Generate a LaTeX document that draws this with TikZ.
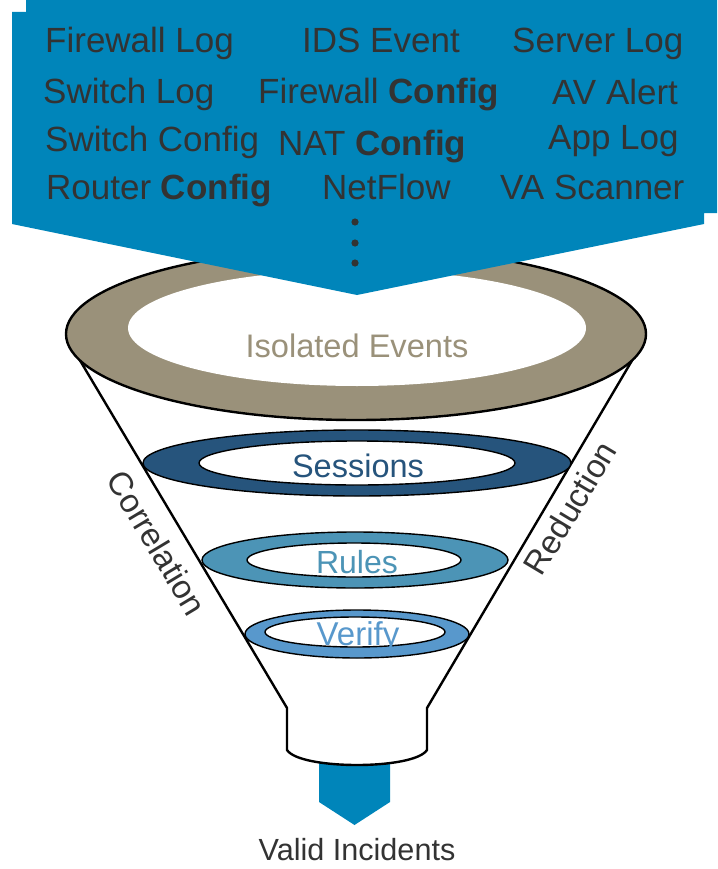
\documentclass[tikz,border=0pt]{standalone}
\usepackage{fontspec}
\setmainfont{Liberation Sans}
\definecolor{topblue}{HTML}{0085BA}
\definecolor{tan}{HTML}{9A917A}
\definecolor{sessblue}{HTML}{26547C}
\definecolor{rulesblue}{HTML}{4C94B6}
\definecolor{verblue}{HTML}{5898CC}
\definecolor{textgray}{HTML}{333333}
\begin{document}
\begin{tikzpicture}[x=1pt,y=-1pt,
  toptxt/.style={inner sep=0pt, anchor=base west, text=textgray, font=\fontsize{35}{42}\selectfont},
  midtxt/.style={inner sep=0pt, anchor=base, font=\fontsize{#1}{40}\selectfont},
  sidetxt/.style={inner sep=0pt, text=textgray, font=\fontsize{33}{40}\selectfont},
  ringline/.style={draw=black, line width=1.4pt},
  funnelline/.style={draw=black, line width=2.4pt, line join=round}]
\useasboundingbox (0,0) rectangle (717,869);
% bottom arrow
\fill[topblue] (319,760) -- (390,760) -- (390,802) -- (354.5,825) -- (319,802) -- cycle;
% funnel body
\fill[white] (66,334) -- (646,334) -- (427,708) -- (427,750)
  .. controls (414,770) and (300,770) .. (287,750) -- (287,708) -- cycle;
\draw[funnelline] (72,347) -- (287,708) -- (287,750)
  .. controls (300,770) and (414,770) .. (427,750) -- (427,708) -- (640,347);
% top ring
\filldraw[fill=tan, draw=black, line width=2.4pt] (356,334) ellipse [x radius=290pt, y radius=86pt];
\fill[white] (357,328) ellipse [x radius=229pt, y radius=58pt];
% sessions ring
\filldraw[ringline, fill=sessblue] (357,463) ellipse [x radius=214pt, y radius=33pt];
\filldraw[ringline, fill=white] (357,463) ellipse [x radius=158pt, y radius=22pt];
% rules ring
\filldraw[ringline, fill=rulesblue] (355,560) ellipse [x radius=153pt, y radius=28pt];
\filldraw[ringline, fill=white] (354,560) ellipse [x radius=107pt, y radius=17pt];
% verify ring
\filldraw[ringline, fill=verblue] (357,634) ellipse [x radius=112pt, y radius=24pt];
\filldraw[ringline, fill=white] (355,632) ellipse [x radius=90pt, y radius=15pt];
% top blue banner
\fill[topblue] (26,0) -- (717,0) -- (717,213) -- (704,213) -- (704,224) -- (357,295)
  -- (12,224) -- (12,12) -- (26,12) -- cycle;
% dots
\foreach \yy in {222,243,263} \fill[textgray] (355,\yy) circle [radius=3.6pt];
% top texts
\node[toptxt] (t1) at (45,53) {Firewall Log};
\node[toptxt] (t2) at (302,53) {IDS Event};
\node[toptxt] (t3) at (512,53) {Server Log};
\node[toptxt] (t4) at (43,104) {Switch Log};
\node[toptxt] (t5) at (258,104) {Firewall \textbf{Config}};
\node[toptxt] (t6) at (552,105) {AV Alert};
\node[toptxt] (t7) at (45,152) {Switch Config};
\node[toptxt] (t8) at (278,156) {NAT \textbf{Config}};
\node[toptxt] (t9) at (548,150) {App Log};
\node[toptxt] (t10) at (46,200) {Router \textbf{Config}};
\node[toptxt] (t11) at (322,200) {NetFlow};
\node[toptxt] (t12) at (500,200) {VA Scanner};
% funnel labels
\node[midtxt=32.6, text=tan] (iso) at (357,357) {Isolated Events};
\node[midtxt=32.5, text=sessblue] (sess) at (358,477) {Sessions};
\node[midtxt=32, text=rulesblue] (rules) at (357,573) {Rules};
\node[midtxt=33, text=verblue] (ver) at (358,645) {Verify};
\node[midtxt=30.6, text=textgray] (valid) at (357,860) {Valid Incidents};
\node[sidetxt, rotate=-59] (corr) at (157,543) {Correlation};
\node[sidetxt, rotate=59] (red) at (570,508) {Reduction};
\end{tikzpicture}
\end{document}
